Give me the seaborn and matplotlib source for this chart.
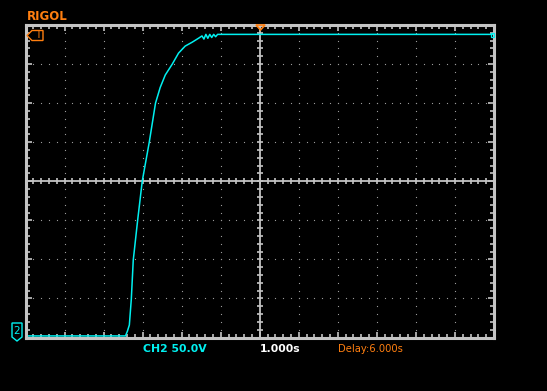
import numpy as np
import pandas as pd
import matplotlib
matplotlib.use("Agg")
import matplotlib.pyplot as plt
from matplotlib.patches import Polygon
from matplotlib.ticker import MultipleLocator
import seaborn as sns

# ---- data (time in s across 12 divisions, CH2 voltage in V, 50 V/div) ----
time_s = [0.0, 2.56, 2.61, 2.66, 2.71, 2.76, 2.87, 2.99, 3.17, 3.33, 3.45, 3.58,
          3.76, 3.92, 4.09, 4.27, 4.43, 4.52, 4.57, 4.62, 4.67, 4.72, 4.77,
          4.82, 4.87, 4.92, 5.0, 12.0]
volts = [2, 2, 8, 16, 49, 99, 149, 200, 250, 300, 320, 336,
         350, 364, 373, 378, 383, 386, 382, 388, 383, 388, 384,
         388, 385, 388, 388, 388]

ch_label = "CH2 50.0V"
time_label = "1.000s"
delay_label = "Delay:6.000s"
brand = "RIGOL"

W, H = 547, 391
CYAN = "#00f0f0"
ORANGE = "#ff7f10"
GRAY = "#c4c4c4"
DOT = "#9a9a9a"

sns.set_style("dark")
fig = plt.figure(figsize=(W / 100, H / 100), dpi=100, facecolor="black")

def fx(x):
    return x / W

def fy(y):
    return 1 - y / H

left, right, top, bottom = 25.5, 494, 25, 337.5
ax = fig.add_axes([fx(left), fy(bottom), (right - left) / W, (bottom - top) / H])
ax.set_facecolor("black")
ax.set_xlim(0, 12)
ax.set_ylim(0, 400)

# dotted grid
for gx in range(1, 12):
    if gx == 6:
        continue
    ys = np.arange(0, 400.01, 10)
    ax.plot([gx] * len(ys), ys, ls="none", marker="s", ms=0.8, color=DOT, mew=0)
for gy in range(50, 400, 50):
    if gy == 200:
        continue
    xs = np.arange(0, 12.001, 0.2)
    ax.plot(xs, [gy] * len(xs), ls="none", marker="s", ms=0.8, color=DOT, mew=0)

# center crosshair with ticks
ax.axvline(6, color=GRAY, lw=1.3)
ax.axhline(200, color=GRAY, lw=1.3)
xs = np.arange(0.2, 12, 0.2)
ax.plot(xs, [200] * len(xs), ls="none", marker="|", ms=5, mew=1.2, color=GRAY)
ys = np.arange(10, 400, 10)
ax.plot([6] * len(ys), ys, ls="none", marker="_", ms=5, mew=1.2, color=GRAY)

# trace
df = pd.DataFrame({"t": time_s, "v": volts})
sns.lineplot(data=df, x="t", y="v", ax=ax, color=CYAN, lw=1.1, estimator=None)

# frame & edge ticks
for s in ax.spines.values():
    s.set_color(GRAY)
    s.set_linewidth(2.2)
ax.xaxis.set_major_locator(MultipleLocator(1))
ax.xaxis.set_minor_locator(MultipleLocator(0.2))
ax.yaxis.set_major_locator(MultipleLocator(50))
ax.yaxis.set_minor_locator(MultipleLocator(10))
ax.tick_params(which="both", direction="in", top=True, right=True, bottom=True, left=True,
               color=GRAY, labelbottom=False, labelleft=False)
ax.tick_params(which="major", length=4, width=1.2)
ax.tick_params(which="minor", length=3, width=1.2)
ax.set_xlabel("")
ax.set_ylabel("")
ax.grid(False)

# texts
fig.text(fx(27), fy(16.5), brand, color=ORANGE, fontsize=8.5, fontweight="bold",
         va="center", ha="left")
fig.text(fx(143), fy(348.5), ch_label, color=CYAN, fontsize=7.8, fontweight="bold",
         va="center", ha="left")
fig.text(fx(260), fy(348.5), time_label, color="white", fontsize=7.8, fontweight="bold",
         va="center", ha="left")
fig.text(fx(338), fy(348.5), delay_label, color=ORANGE, fontsize=7.2,
         va="center", ha="left")

# trigger level marker (left)
pts = [(27, 35.5), (32, 30.5), (43, 30.5), (43, 40.5), (32, 40.5)]
fig.add_artist(Polygon([(fx(a), fy(b)) for a, b in pts], closed=True, fill=False,
                       edgecolor=ORANGE, lw=1.0, transform=fig.transFigure))
fig.text(fx(37.5), fy(35.5), "T", color=ORANGE, fontsize=7, va="center", ha="center")

# channel 2 ground marker
pts = [(12, 323), (22, 323), (22, 337), (17, 341), (12, 337)]
fig.add_artist(Polygon([(fx(a), fy(b)) for a, b in pts], closed=True, fill=False,
                       edgecolor=CYAN, lw=1.0, transform=fig.transFigure))
fig.text(fx(17), fy(331), "2", color=CYAN, fontsize=7.5, va="center", ha="center")

# trigger position marker (top)
pts = [(256, 25), (265, 25), (260.5, 30)]
fig.add_artist(Polygon([(fx(a), fy(b)) for a, b in pts], closed=True, fill=False,
                       edgecolor=ORANGE, lw=1.2, transform=fig.transFigure))

# right-side level marker
pts = [(491, 32.5), (494, 32.5), (494, 36.5), (491, 36.5)]
fig.add_artist(Polygon([(fx(a), fy(b)) for a, b in pts], closed=True, fill=False,
                       edgecolor=CYAN, lw=0.9, transform=fig.transFigure))

fig.savefig("out.png", dpi=100, facecolor="black")
